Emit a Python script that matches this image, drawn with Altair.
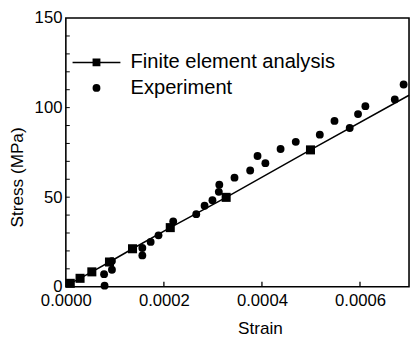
import altair as alt
import pandas as pd

# --- data ---
fea_strain = [0.000009, 0.000029, 0.000053, 0.000089, 0.000136, 0.000213, 0.000327, 0.000499]
fea_stress = [1.9, 4.7, 8.3, 13.8, 21.2, 33.0, 49.9, 76.4]
fea_line_end_strain = [0.0007]
fea_line_end_stress = [106.9]

exp_strain = [0.000079, 0.000078, 0.000094, 0.000094, 0.000156, 0.000156, 0.000173, 0.000189,
              0.000219, 0.000266, 0.000283, 0.000299, 0.000312, 0.000313, 0.000344, 0.000376,
              0.000391, 0.000407, 0.000438, 0.000469, 0.000518, 0.000548, 0.000579, 0.000596,
              0.000611, 0.000671, 0.000689]
exp_stress = [0.6, 7.0, 9.5, 14.3, 17.5, 21.6, 25.0, 28.7,
              36.4, 40.5, 45.2, 48.3, 53.0, 57.0, 60.9, 64.9,
              73.0, 69.0, 76.9, 80.9, 84.9, 92.6, 88.6, 96.4,
              100.8, 104.6, 112.9]

series_names = ["Finite element analysis", "Experiment"]
x_ticks = [0.0, 0.0002, 0.0004, 0.0006]
y_ticks = [0, 50, 100, 150]
y_minor = [10, 20, 30, 40, 50, 60, 70, 80, 90, 100, 110, 120, 130, 140]
x_inner = [0.0002, 0.0004, 0.0006]

FONT = "Liberation Sans"

fea_df = pd.DataFrame({"strain": fea_strain, "stress": fea_stress})
line_df = pd.DataFrame({"strain": fea_strain + fea_line_end_strain,
                        "stress": fea_stress + fea_line_end_stress})
exp_df = pd.DataFrame({"strain": exp_strain, "stress": exp_stress})
all_df = pd.concat([
    fea_df.assign(series=series_names[0]),
    exp_df.assign(series=series_names[1]),
], ignore_index=True)
ytick_df = pd.DataFrame({"v": y_minor})
xtick_df = pd.DataFrame({"v": x_inner})

xscale = alt.Scale(domain=[0, 0.0007], nice=False, zero=False)
yscale = alt.Scale(domain=[0, 150], nice=False)

xaxis = alt.Axis(values=x_ticks, format=".4f", title="Strain", grid=False, ticks=False,
                 domain=False, labelFont=FONT, labelFontSize=17, labelColor="black",
                 labelPadding=6, labelBaseline="top", titleFont=FONT, titleFontSize=17.5,
                 titleFontWeight="normal", titleColor="black", titleX=198, titleY=48,
                 titleBaseline="alphabetic", labelFlush=False, labelOverlap=False)
yaxis = alt.Axis(values=y_ticks, title="Stress (MPa)", grid=False, ticks=False, domain=False,
                 labelFont=FONT, labelFontSize=17, labelColor="black", labelPadding=4,
                 titleFont=FONT, titleFontSize=17.5, titleFontWeight="normal",
                 titleColor="black", titleX=-44, titleY=162, titleAngle=270,
                 titleBaseline="alphabetic", titleAlign="center", labelFlush=False,
                 labelOverlap=False)

X = alt.X("strain:Q", scale=xscale, axis=xaxis)
Y = alt.Y("stress:Q", scale=yscale, axis=yaxis)

line = alt.Chart(line_df).mark_line(color="black", strokeWidth=1.5).encode(x=X, y=Y)

squares = alt.Chart(fea_df).mark_square(color="black", filled=True, size=85, opacity=1).encode(
    x=alt.X("strain:Q", scale=xscale), y=alt.Y("stress:Q", scale=yscale))

# legend symbol for the FE series: a thin filled bar (the line) plus a filled square
legend_path = "M-6.1,-0.18H6.1V0.18H-6.1ZM-1,-1H1V1H-1Z"
circles = alt.Chart(all_df).mark_point(filled=True, color="black", size=64).encode(
    x=alt.X("strain:Q", scale=xscale),
    y=alt.Y("stress:Q", scale=yscale),
    shape=alt.Shape("series:N",
                    scale=alt.Scale(domain=series_names, range=[legend_path, "circle"]),
                    legend=alt.Legend(orient="none", legendX=3.5, legendY=35, title=None,
                                      padding=0, symbolSize=64, symbolOffset=17.5,
                                      labelOffset=24.5, rowPadding=5,
                                      labelFont=FONT, labelFontSize=20.5,
                                      labelColor="black", symbolFillColor="black",
                                      symbolOpacity=1, labelLimit=400)),
    opacity=alt.condition(alt.datum.series == series_names[1], alt.value(1), alt.value(0)),
)

ytk = alt.Chart(ytick_df).mark_rule(color="black", strokeWidth=1).encode(
    y=alt.Y("v:Q", scale=yscale), x=alt.value(0), x2=alt.value(4))
xtk = alt.Chart(xtick_df).mark_rule(color="black", strokeWidth=1.3).encode(
    x=alt.X("v:Q", scale=xscale), y=alt.value(274), y2=alt.value(269))

chart = alt.layer(line, squares, circles, ytk, xtk).properties(
    width=350, height=274,
    autosize=alt.AutoSizeParams(type="none"),
    padding={"left": 59, "top": 7, "right": 1, "bottom": 48},
    background="white",
).configure_view(stroke="black", strokeWidth=1.6)

chart.save("out.html", embed_options={"renderer": "svg", "actions": False})
